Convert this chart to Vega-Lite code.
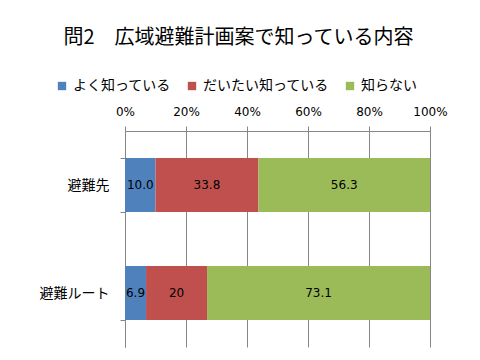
{
  "$schema": "https://vega.github.io/schema/vega-lite/v6.json",
  "width": 305,
  "height": 216,
  "autosize": {"type": "none"},
  "padding": {"left": 125, "top": 131, "right": 50, "bottom": 13},
  "background": "white",
  "title": {
    "text": "問2　広域避難計画案で知っている内容",
    "font": "Noto Sans CJK JP",
    "fontSize": 20,
    "fontWeight": "normal",
    "color": "#000000",
    "anchor": "middle",
    "dx": -39,
    "offset": 31
  },
  "data": {
    "values": [
      {"item": "避難先", "cat": "よく知っている", "order": 1, "value": 10.0, "label": "10.0"},
      {"item": "避難先", "cat": "だいたい知っている", "order": 2, "value": 33.8, "label": "33.8"},
      {"item": "避難先", "cat": "知らない", "order": 3, "value": 56.3, "label": "56.3"},
      {"item": "避難ルート", "cat": "よく知っている", "order": 1, "value": 6.9, "label": "6.9"},
      {"item": "避難ルート", "cat": "だいたい知っている", "order": 2, "value": 20, "label": "20"},
      {"item": "避難ルート", "cat": "知らない", "order": 3, "value": 73.1, "label": "73.1"}
    ]
  },
  "transform": [
    {"stack": "value", "groupby": ["item"], "sort": [{"field": "order", "order": "ascending"}], "as": ["v0", "v1"], "offset": "normalize"},
    {"calculate": "(datum.v0 + datum.v1) / 2", "as": "mid"}
  ],
  "encoding": {
    "y": {
      "field": "item",
      "type": "nominal",
      "sort": ["避難先", "避難ルート"],
      "scale": {"paddingInner": 0.5, "paddingOuter": 0.25},
      "axis": {
        "title": null,
        "labelFont": "Noto Sans CJK JP",
        "labelFontSize": 14,
        "labelColor": "#000000",
        "labelPadding": 11,
        "domainColor": "#868686",
        "tickColor": "#868686",
        "tickSize": 5,
        "tickBand": "extent",
        "grid": false
      }
    }
  },
  "layer": [
    {
      "mark": {"type": "bar"},
      "encoding": {
        "x": {
          "field": "v0",
          "type": "quantitative",
          "scale": {"domain": [0, 1], "nice": false},
          "axis": {
            "orient": "top",
            "title": null,
            "format": ".0%",
            "values": [0, 0.2, 0.4, 0.6, 0.8, 1],
            "labelFont": "DejaVu Sans",
            "labelFontSize": 12,
            "labelColor": "#000000",
            "labelPadding": 8,
            "labelFlush": false,
            "domainColor": "#868686",
            "tickColor": "#868686",
            "tickSize": 5,
            "grid": true,
            "gridColor": "#868686",
            "gridOpacity": 1
          }
        },
        "x2": {"field": "v1"},
        "color": {
          "field": "cat",
          "type": "nominal",
          "scale": {
            "domain": ["よく知っている", "だいたい知っている", "知らない"],
            "range": ["#4F81BD", "#C0504D", "#9BBB59"]
          },
          "legend": {
            "title": null,
            "orient": "none",
            "direction": "horizontal",
            "legendX": -70,
            "legendY": -52,
            "symbolType": "square",
            "symbolSize": 70,
            "symbolStrokeWidth": 0,
            "labelFont": "Noto Sans CJK JP",
            "labelFontSize": 14,
            "labelColor": "#000000",
            "columnPadding": 14,
            "labelOffset": 4
          }
        },
        "order": {"field": "order"}
      }
    },
    {
      "mark": {"type": "text", "font": "DejaVu Sans", "fontSize": 12, "color": "#000000"},
      "encoding": {
        "x": {"field": "mid", "type": "quantitative"},
        "text": {"field": "label"}
      }
    }
  ],
  "config": {
    "view": {"stroke": null}
  }
}
